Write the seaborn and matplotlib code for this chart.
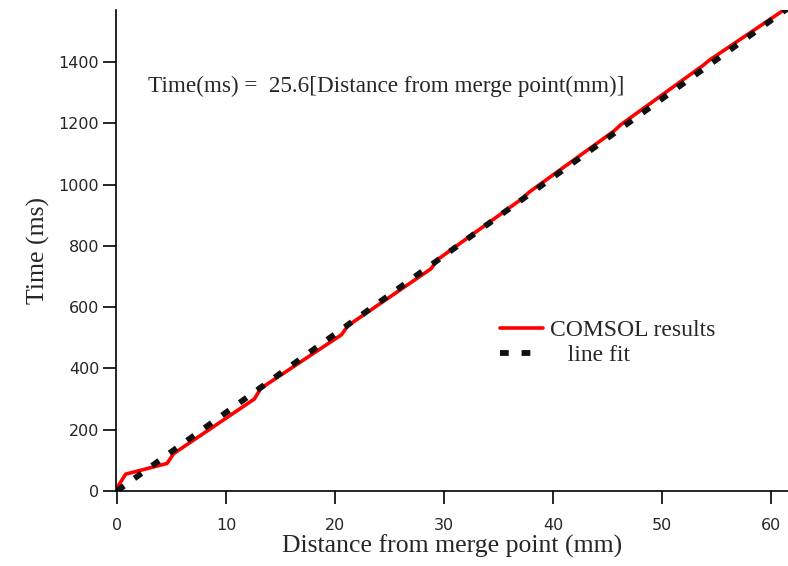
import numpy as np
import pandas as pd
import matplotlib
matplotlib.use('Agg')
import matplotlib.pyplot as plt
import seaborn as sns

# COMSOL results
comsol_dist = [0.0, 0.8, 4.6, 5.2, 12.6, 13.2, 20.6, 21.2, 28.8, 29.4,
               37.2, 37.8, 45.6, 46.2, 53.8, 54.3, 61.6]
comsol_time = [10, 55, 90, 122, 300, 335, 510, 540, 725, 755,
               955, 975, 1175, 1195, 1390, 1405, 1580]

# line fit: Time = 25.6 * distance
slope = 25.6
fit_dist = [0.0, 61.6]
fit_time = [slope * d for d in fit_dist]

df_comsol = pd.DataFrame({'dist': comsol_dist, 'time': comsol_time})
df_fit = pd.DataFrame({'dist': fit_dist, 'time': fit_time})

sns.set_style('ticks')
plt.rcParams['font.family'] = ['DejaVu Sans']

fig = plt.figure(figsize=(7.88, 5.66), dpi=100)
ax = fig.add_axes([0.147, 0.1325, 0.853, 0.85])

sns.lineplot(data=df_comsol, x='dist', y='time', ax=ax, color='#ff0000',
             linewidth=2.6, label='COMSOL results', sort=False)
sns.lineplot(data=df_fit, x='dist', y='time', ax=ax, color='#111111',
             linewidth=4.2, label='   line fit')
ax.lines[1].set_dashes([1.5, 2.2])

ax.set_xlim(-0.1, 61.55)
ax.set_ylim(0, 1570)
ax.set_xticks([0, 10, 20, 30, 40, 50, 60])
ax.set_yticks([0, 200, 400, 600, 800, 1000, 1200, 1400])
ax.tick_params(labelsize=11.5, length=9.5, width=1.2, color='black', direction='out')
ax.tick_params(axis='x', pad=10)
ax.tick_params(axis='y', pad=2.5)

for s in ['top', 'right']:
    ax.spines[s].set_visible(False)
for s in ['left', 'bottom']:
    ax.spines[s].set_linewidth(1.2)
    ax.spines[s].set_color('black')

ax.set_xlabel('Distance from merge point (mm)', family='Liberation Serif', fontsize=18.5, labelpad=1)
ax.set_ylabel('Time (ms)', family='Liberation Serif', fontsize=18.5, labelpad=6)

ax.text(2.85, 1320, 'Time(ms) =  25.6[Distance from merge point(mm)]',
        family='Liberation Serif', fontsize=16.7, va='center')

leg = ax.legend(loc='upper left', bbox_to_anchor=(0.54, 0.40), frameon=False,
                prop={'family': 'Liberation Serif', 'size': 17},
                handlelength=1.8, handletextpad=0.3, labelspacing=0.15)

fig.savefig('out.png', dpi=100)
